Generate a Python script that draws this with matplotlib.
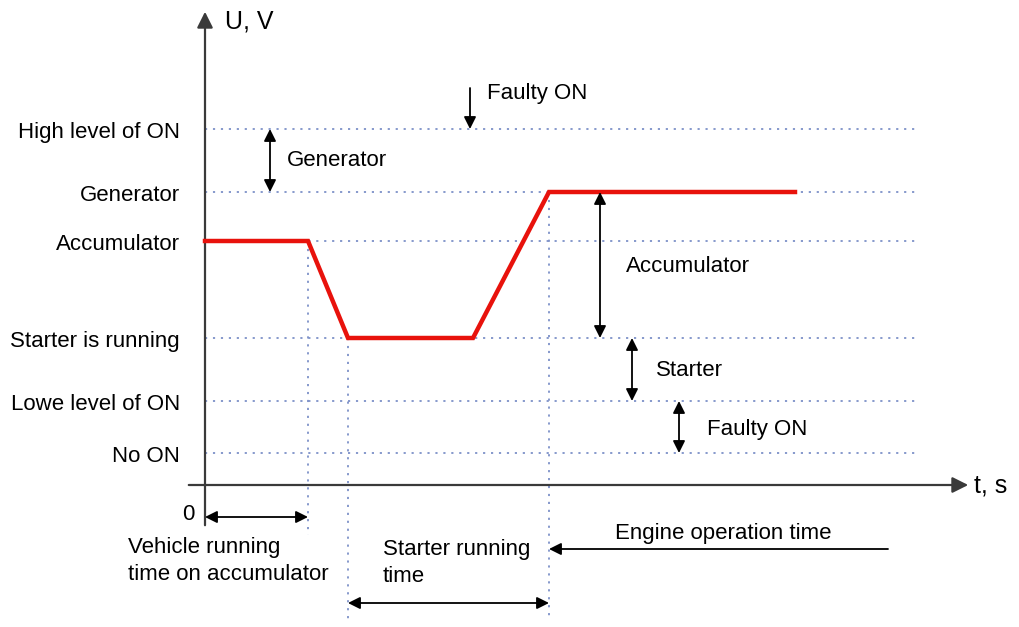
import matplotlib
matplotlib.use("Agg")
import matplotlib.pyplot as plt

# Voltage levels (arbitrary units) and their labels
level_names  = ["High level of ON", "Generator", "Accumulator", "Starter is running", "Lowe level of ON", "No ON"]
level_values = [35.6, 29.3, 24.4, 14.7, 8.4, 3.2]

# Red voltage curve (time, voltage)
curve_t = [0.0, 10.3, 14.3, 26.8, 34.4, 59.0]
curve_u = [24.4, 24.4, 14.7, 14.7, 29.3, 29.3]

# Vertical guide lines (time, top voltage, bottom voltage)
guide_t   = [10.3, 14.3, 34.4]
guide_top = [24.4, 14.7, 29.3]
guide_bot = [-5.0, -13.5, -13.5]

plt.rcParams["font.family"] = ["Liberation Sans", "DejaVu Sans"]

fig = plt.figure(figsize=(10.19, 6.27), dpi=100)
ax = fig.add_axes([0, 0, 1, 1])
ax.set_xlim(-20.5, 81.4)
ax.set_ylim(-14.2, 48.5)
ax.axis("off")

dot_col = "#7d91c8"
fs = 16

# dotted level lines + labels
for name, u in zip(level_names, level_values):
    ax.plot([0, 71], [u, u], color=dot_col, lw=1.3, ls=(0, (1.2, 3.2)), zorder=1)
    ax.text(-2.5, u - 0.35, name, ha="right", va="center", fontsize=fs)

# vertical dotted lines
for t, top, bot in zip(guide_t, guide_top, guide_bot):
    ax.plot([t, t], [top, bot], color=dot_col, lw=1.3, ls=(0, (1.2, 3.2)), zorder=1)

# axes
axis_col = "#3a3a3a"
ax.annotate("", xy=(0, 47.6), xytext=(0, -4.3),
            arrowprops=dict(arrowstyle="-|>", color=axis_col, lw=1.6, mutation_scale=24))
ax.annotate("", xy=(76.6, 0), xytext=(-1.9, 0),
            arrowprops=dict(arrowstyle="-|>", color=axis_col, lw=1.6, mutation_scale=24))
ax.text(2.0, 46.4, "U, V", fontsize=18, va="center", ha="left")
ax.text(76.9, 0.0, "t, s", fontsize=18, va="center", ha="left")
ax.text(-1.0, -2.9, "0", fontsize=fs, va="center", ha="right")

# red curve
ax.plot(curve_t, curve_u, color="#e8120c", lw=3.2, solid_joinstyle="miter", zorder=3)

# annotation arrows
def darrow(x0, y0, x1, y1, style="<|-|>"):
    ax.annotate("", xy=(x1, y1), xytext=(x0, y0),
                arrowprops=dict(arrowstyle=style, color="black", lw=1.3,
                                mutation_scale=18, shrinkA=0, shrinkB=0))

darrow(26.5, 39.7, 26.5, 35.6, style="-|>")
ax.text(28.2, 39.2, "Faulty ON", fontsize=fs, va="center")

darrow(6.5, 35.6, 6.5, 29.3)
ax.text(8.2, 32.5, "Generator", fontsize=fs, va="center")

darrow(39.5, 29.3, 39.5, 14.7)
ax.text(42.1, 21.9, "Accumulator", fontsize=fs, va="center")

darrow(42.7, 14.7, 42.7, 8.4)
ax.text(45.1, 11.5, "Starter", fontsize=fs, va="center")

darrow(47.4, 8.4, 47.4, 3.2)
ax.text(50.2, 5.5, "Faulty ON", fontsize=fs, va="center")

darrow(0, -3.2, 10.3, -3.2)
ax.text(-7.7, -7.6, "Vehicle running\ntime on accumulator", fontsize=fs,
        va="center", ha="left", linespacing=1.4)

darrow(14.3, -11.8, 34.4, -11.8)
ax.text(17.8, -7.8, "Starter running\ntime", fontsize=fs,
        va="center", ha="left", linespacing=1.4)

darrow(68.3, -6.4, 34.4, -6.4, style="-|>")
ax.text(41.0, -4.9, "Engine operation time", fontsize=fs, va="center", ha="left")

fig.savefig("out.png", dpi=100, facecolor="white")
